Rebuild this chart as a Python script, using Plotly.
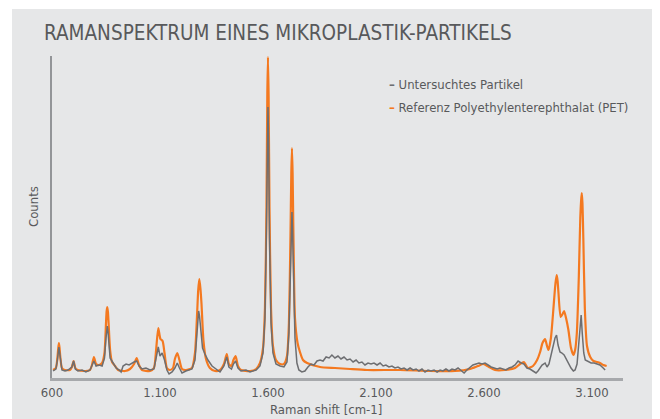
import plotly.graph_objects as go

# Reference PET spectrum (orange)
pet_shift = [605, 618, 625, 629, 632, 635, 639, 646, 660, 683, 692, 700, 708, 720, 753, 776, 785, 794, 804, 818, 832,
             843, 850, 853, 856, 859, 862, 869, 878, 892, 906, 938, 961, 980, 992, 1003, 1017, 1054, 1072, 1082, 1092,
             1102, 1112, 1121, 1132, 1146, 1160, 1169, 1180, 1190, 1202, 1220, 1248, 1262, 1271, 1277, 1282, 1287,
             1292, 1301, 1313, 1331, 1355, 1378, 1396, 1409, 1419, 1431, 1440, 1450, 1461, 1475, 1517, 1545, 1563,
             1577, 1586, 1593, 1597, 1600, 1603, 1607, 1614, 1623, 1637, 1656, 1674, 1688, 1697, 1704, 1708, 1711,
             1714, 1718, 1725, 1737, 1748, 1762, 1781, 1841, 1910, 1980, 2058, 2211, 2350, 2466, 2535, 2572, 2597,
             2623, 2651, 2697, 2744, 2767, 2785, 2804, 2827, 2846, 2860, 2871, 2883, 2892, 2899, 2910, 2920, 2929,
             2933, 2937, 2941, 2945, 2955, 2964, 2971, 2980, 2991, 3003, 3014, 3022, 3030, 3039, 3046, 3050, 3053,
             3056, 3060, 3067, 3077, 3092, 3107, 3124, 3137, 3152, 3168]
pet_counts = [8, 10, 20, 30, 35, 30, 20, 10, 8, 8, 11, 17, 10, 8, 7, 8, 13, 21, 14, 13, 15,
              25, 55, 67, 71, 66, 55, 28, 16, 12, 8, 7, 9, 14, 20, 13, 8, 7, 10, 28, 50,
              39, 37, 25, 10, 8, 10, 19, 25, 18, 9, 8, 10, 25, 60, 88, 99, 90,
              75, 38, 19, 10, 7, 8, 14, 24, 14, 12, 18, 22, 12, 8, 7, 9, 15,
              30, 70, 170, 285, 321, 280, 170, 70, 32, 18, 14, 14, 22, 55, 140, 205, 230,
              205, 140, 60, 35, 26, 18, 15, 11, 10, 9, 8, 8, 7, 7, 9, 12, 14,
              11, 8, 8, 10, 14, 16, 10, 12, 18, 26, 35, 39, 32, 28, 40, 65, 90,
              98, 103, 97, 85, 61, 64, 67, 60, 48, 30, 23, 28, 45, 100, 160, 178, 185,
              175, 140, 70, 32, 21, 17, 16, 15, 13, 12]

# Examined particle spectrum (grey)
part_shift = [605, 618, 625, 629, 632, 635, 639, 646, 660, 674, 692, 700, 708, 720, 739, 757, 776, 785, 794, 804,
              818, 832, 843, 850, 853, 856, 859, 862, 869, 883, 897, 911, 920, 929, 943, 957, 970, 980, 992, 1003,
              1017, 1035, 1054, 1072, 1082, 1092, 1100, 1110, 1121, 1132, 1142, 1156, 1169, 1180, 1190, 1202, 1220,
              1248, 1262, 1271, 1275, 1279, 1283, 1287, 1297, 1308, 1322, 1341, 1359, 1378, 1396, 1409, 1419, 1431,
              1440, 1450, 1461, 1475, 1498, 1517, 1545, 1563, 1577, 1586, 1593, 1597, 1600, 1603, 1607, 1614, 1623,
              1637, 1656, 1674, 1688, 1697, 1704, 1708, 1711, 1714, 1718, 1725, 1734, 1743, 1757, 1771, 1785, 1799,
              1813, 1827, 1841, 1855, 1869, 1883, 1896, 1910, 1924, 1938, 1952, 1966, 1980, 1994, 2008, 2021, 2035,
              2049, 2063, 2077, 2091, 2105, 2119, 2133, 2146, 2160, 2174, 2188, 2202, 2216, 2230, 2244, 2258, 2272,
              2286, 2299, 2313, 2327, 2341, 2355, 2369, 2383, 2397, 2410, 2424, 2438, 2452, 2466, 2480, 2494, 2508,
              2521, 2535, 2549, 2563, 2577, 2591, 2605, 2619, 2633, 2647, 2661, 2674, 2688, 2702, 2716, 2730, 2744,
              2758, 2772, 2785, 2799, 2813, 2827, 2841, 2850, 2860, 2869, 2883, 2892, 2901, 2910, 2920, 2929, 2936,
              2943, 2952, 2961, 2971, 2980, 2991, 3003, 3014, 3022, 3031, 3039, 3046, 3050, 3055, 3062, 3069, 3083,
              3096, 3110, 3124, 3137, 3152, 3161]
part_counts = [7, 9, 18, 27, 31, 26, 17, 8, 7, 8, 11, 17, 9, 7, 8, 6, 8, 12, 17, 12,
               13, 12, 20, 40, 48, 52, 47, 38, 20, 15, 10, 8, 6, 12, 14, 13, 15, 16, 17, 12,
               9, 10, 8, 9, 20, 31, 22, 25, 18, 8, 4, 6, 10, 15, 10, 5, 7,
               9, 18, 45, 58, 67, 62, 50, 30, 24, 18, 12, 9, 6, 12, 21, 11, 9,
               14, 17, 10, 7, 8, 6, 8, 12, 25, 60, 150, 240, 271, 235, 140, 55, 25,
               14, 12, 11, 16, 45, 100, 148, 166, 146, 100, 40, 15, 8, 6, 7, 11, 14,
               13, 17, 18, 17, 21, 20, 23, 20, 22, 19, 21, 18, 19, 16, 18, 15, 16,
               13, 15, 14, 15, 13, 15, 12, 13, 11, 12, 10, 11, 9, 10, 8, 10, 8,
               9, 7, 9, 6, 8, 7, 8, 6, 8, 7, 9, 7, 9, 8, 10, 7, 5,
               8, 11, 13, 14, 15, 14, 15, 13, 11, 10, 9, 10, 9, 8, 10, 11, 13,
               17, 15, 14, 10, 9, 7, 5, 7, 10, 13, 15, 11, 14, 22, 33, 40, 43,
               33, 26, 25, 23, 19, 15, 10, 7, 8, 14, 35, 55, 63, 45, 25, 18, 16,
               15, 15, 14, 13, 10, 8]

tick_vals = [600, 1100, 1600, 2100, 2600, 3100]
tick_text = ["600", "1.100", "1.600", "2.100", "2.600", "3.100"]

title_text = "RAMANSPEKTRUM EINES MIKROPLASTIK-PARTIKELS"
x_title = "Raman shift [cm-1]"
y_title = "Counts"
name_part = "Untersuchtes Partikel"
name_pet = "Referenz Polyethylenterephthalat (PET)"

ORANGE = "#f47920"
GREY = "#6d6e71"
TXT = "#58595b"
BG = "#e6e7e8"
FONT = "Liberation Sans Narrow, DejaVu Sans Condensed, Roboto, sans-serif"

fig = go.Figure()
fig.add_trace(go.Scatter(x=pet_shift, y=pet_counts, mode="lines", name=name_pet,
                         line=dict(color=ORANGE, width=2.2, shape="spline", smoothing=0.6), showlegend=False))
fig.add_trace(go.Scatter(x=part_shift, y=part_counts, mode="lines", name=name_part,
                         line=dict(color=GREY, width=1.5), showlegend=False))

OFF = 8  # page body margin
W, H = 660, 419
L, T = 52 - OFF, 56 - OFF
R = W - (623 - OFF)
B = H - (378 - OFF)
pw, ph = W - L - R, H - T - B

def px(xp):  # page pixel -> paper
    return (xp - OFF - L) / pw

def py(yp):
    return (H - B - (yp - OFF)) / ph

fig.update_layout(
    width=W, height=H,
    margin=dict(l=L, r=R, t=T, b=B),
    paper_bgcolor=BG, plot_bgcolor=BG,
    font=dict(family=FONT, color=TXT, size=13),
    xaxis=dict(range=[600, 600 + pw * 4.63], tickvals=tick_vals, ticktext=tick_text,
               showgrid=False, zeroline=False, showline=True, linecolor="#a7a9ac", linewidth=3,
               ticks="", tickfont=dict(size=13, color=TXT, family=FONT)),
    yaxis=dict(range=[0, 322], showticklabels=False, showgrid=False, zeroline=False,
               showline=True, linecolor="#939598", linewidth=1.5, ticks=""),
    shapes=[
        dict(type="rect", xref="paper", yref="paper", x0=px(0), x1=px(W + 20), y0=py(9), y1=py(-5),
             fillcolor="white", line=dict(width=0), layer="above"),
        dict(type="rect", xref="paper", yref="paper", x0=px(0), x1=px(12), y0=py(H + 20), y1=py(-5),
             fillcolor="white", line=dict(width=0), layer="above"),
    ],
    annotations=[
        dict(text=title_text, x=px(42), y=py(33), xref="paper", yref="paper", xanchor="left",
             yanchor="middle", showarrow=False, font=dict(size=20.5, color=TXT, family=FONT)),
        dict(text=y_title, x=px(33), y=py(207), xref="paper", yref="paper", textangle=-90,
             xanchor="center", yanchor="middle", showarrow=False, font=dict(size=13, color=TXT, family=FONT)),
        dict(text=x_title, x=px(326), y=py(409), xref="paper", yref="paper",
             xanchor="center", yanchor="middle", showarrow=False, font=dict(size=13, color=TXT, family=FONT)),
        dict(text=f"<b><span style='color:{GREY}'>–</span></b> " + name_part, x=px(387), y=py(84),
             xref="paper", yref="paper", xanchor="left", yanchor="middle", showarrow=False,
             font=dict(size=13, color=TXT, family=FONT)),
        dict(text=f"<b><span style='color:{ORANGE}'>–</span></b> " + name_pet, x=px(387), y=py(107),
             xref="paper", yref="paper", xanchor="left", yanchor="middle", showarrow=False,
             font=dict(size=13, color=TXT, family=FONT)),
    ],
)

fig.write_html("out.html")
